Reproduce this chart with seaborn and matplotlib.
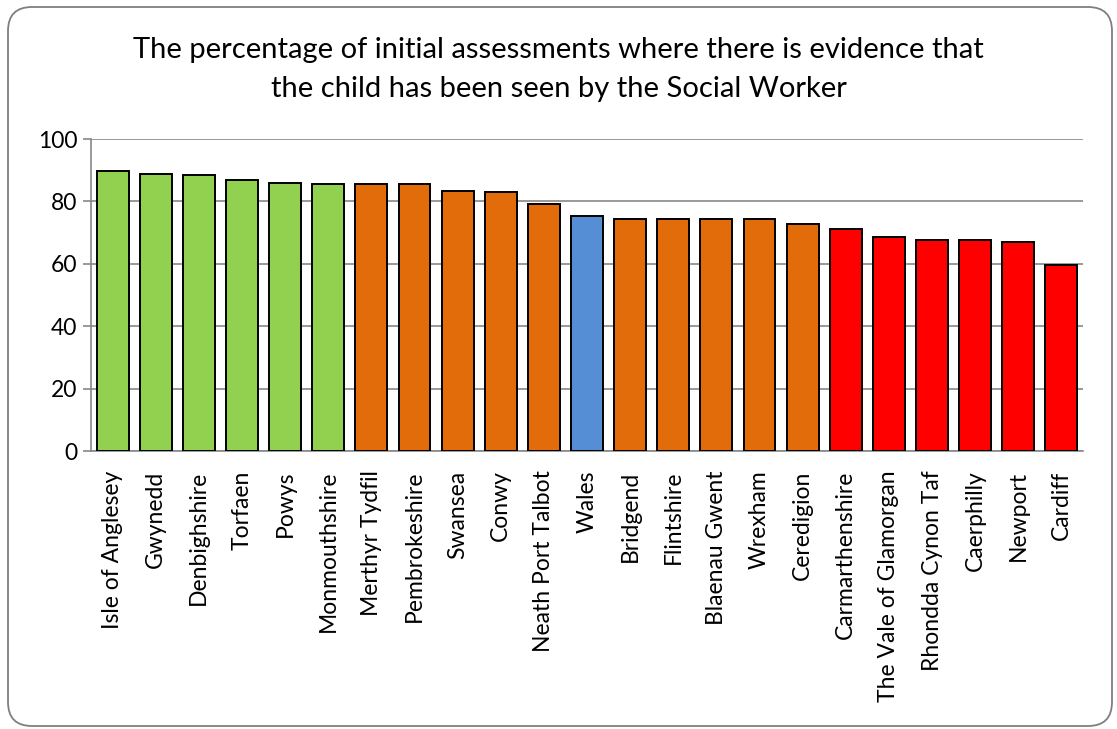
import matplotlib
matplotlib.use("Agg")
import matplotlib.pyplot as plt
import seaborn as sns
import pandas as pd
from matplotlib.patches import FancyBboxPatch

## Data
areas = ["Isle of Anglesey", "Gwynedd", "Denbighshire", "Torfaen", "Powys",
         "Monmouthshire", "Merthyr Tydfil", "Pembrokeshire", "Swansea", "Conwy",
         "Neath Port Talbot", "Wales", "Bridgend", "Flintshire", "Blaenau Gwent",
         "Wrexham", "Ceredigion", "Carmarthenshire", "The Vale of Glamorgan",
         "Rhondda Cynon Taf", "Caerphilly", "Newport", "Cardiff"]
values = [89.8, 88.7, 88.4, 87.0, 85.8, 85.7, 85.7, 85.6, 83.2, 82.9,
          79.3, 75.4, 74.5, 74.4, 74.3, 74.3, 72.8, 71.3, 68.6,
          67.6, 67.5, 66.9, 59.6]
band = ["green"] * 6 + ["amber"] * 5 + ["wales"] + ["amber"] * 5 + ["red"] * 6
band_colours = {"green": "#92D050", "amber": "#E36C0A", "wales": "#558ED5", "red": "#FF0000"}
yticks = [0, 20, 40, 60, 80, 100]

df = pd.DataFrame({"area": areas, "value": values, "band": band})

sns.set_style("white")
plt.rcParams["font.family"] = ["Lato", "DejaVu Sans"]
plt.rcParams["text.color"] = "black"
plt.rcParams["xtick.labelcolor"] = "black"
plt.rcParams["ytick.labelcolor"] = "black"

fig = plt.figure(figsize=(11.17, 7.29), dpi=100)
ax = fig.add_axes([91 / 1117, 1 - 451 / 729, (1083 - 91) / 1117, (451 - 139) / 729])

## saturation=1 so the Excel colours come through unchanged
sns.barplot(data=df, x="area", y="value", hue="band", palette=band_colours,
            dodge=False, legend=False, width=0.74, edgecolor="black",
            linewidth=1.4, saturation=1, ax=ax, zorder=3)

ax.set_ylim(0, 100)
ax.set_xlim(-0.5, len(areas) - 0.5)
ax.set_yticks(yticks)
ax.yaxis.grid(True, color="#888888", linewidth=1.2, zorder=0)
ax.set_axisbelow(True)
ax.set_xlabel("")
ax.set_ylabel("")

for s in ["top", "right"]:
    ax.spines[s].set_visible(False)
for s in ["left", "bottom"]:
    ax.spines[s].set_color("#888888")
    ax.spines[s].set_linewidth(1.2)

## category labels on major ticks, tick marks between the bars
ax.set_xticks(range(len(areas)))
ax.set_xticklabels(areas, rotation=90, fontsize=16.5, va="top")
ax.tick_params(axis="x", which="major", length=0, pad=14, labelcolor="black")
ax.set_xticks([i - 0.5 for i in range(len(areas) + 1)], minor=True)
ax.tick_params(axis="x", which="minor", length=5, width=1.2, color="#888888", direction="out")
ax.tick_params(axis="y", length=6, width=1.2, color="#888888", labelsize=16.5, pad=4,
               left=True, labelcolor="black")

fig.text(0.5, 1 - 37 / 729,
         "The percentage of initial assessments where there is evidence that\n"
         "the child has been seen by the Social Worker",
         ha="center", va="top", fontsize=21, linespacing=1.6, color="black")

## rounded chart border
border = FancyBboxPatch((8, 3), 1104, 719, boxstyle="round,pad=0,rounding_size=24",
                        transform=None, facecolor="none", edgecolor="#7f7f7f",
                        linewidth=1.3)
fig.patches.append(border)

plt.savefig("out.png", dpi=100)
